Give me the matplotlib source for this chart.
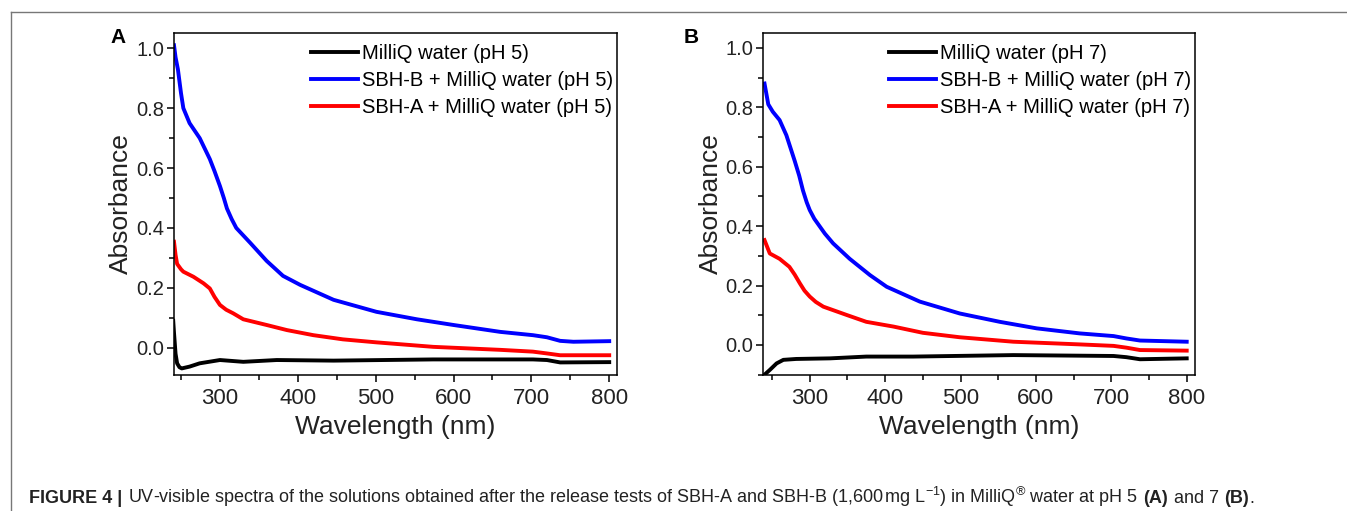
import matplotlib
matplotlib.use("Agg")
import matplotlib.pyplot as plt
from matplotlib.lines import Line2D
from matplotlib.ticker import MultipleLocator, FormatStrFormatter
from matplotlib.offsetbox import TextArea, HPacker, AnchoredOffsetbox

plt.rcParams['font.family'] = ['Liberation Sans', 'DejaVu Sans']
plt.rcParams['mathtext.fontset'] = 'custom'
plt.rcParams['mathtext.rm'] = 'Liberation Sans'
plt.rcParams['mathtext.it'] = 'Liberation Sans:italic'
plt.rcParams['mathtext.bf'] = 'Liberation Sans:bold'

# Panel A (pH 5)
wl_a_water = [240, 241, 243, 245, 248, 251, 261, 274, 300, 330, 373, 446, 574, 702, 720, 737, 800]
abs_a_water = [0.09, 0.05, -0.02, -0.052, -0.065, -0.069, -0.063, -0.052, -0.041, -0.047,
               -0.041, -0.043, -0.039, -0.039, -0.041, -0.049, -0.048]
wl_a_sbhb = [241, 243, 246, 250, 253, 261, 274, 287, 293, 300, 305, 309, 315, 321, 330, 339,
             360, 381, 403, 446, 501, 553, 600, 660, 702, 720, 737, 754, 800]
abs_a_sbhb = [1.01, 0.97, 0.93, 0.85, 0.80, 0.75, 0.70, 0.63, 0.59, 0.54, 0.50, 0.465, 0.43,
              0.40, 0.375, 0.35, 0.29, 0.24, 0.21, 0.16, 0.12, 0.095, 0.076, 0.053, 0.042,
              0.035, 0.023, 0.02, 0.022]
wl_a_sbha = [241, 243, 245, 250, 253, 266, 279, 287, 293, 300, 308, 317, 330, 360, 386, 420,
             458, 501, 574, 617, 660, 702, 720, 737, 800]
abs_a_sbha = [0.354, 0.31, 0.28, 0.262, 0.254, 0.237, 0.215, 0.198, 0.17, 0.143, 0.127, 0.115,
              0.095, 0.076, 0.059, 0.042, 0.028, 0.018, 0.003, -0.002, -0.007, -0.013,
              -0.019, -0.025, -0.025]

# Panel B (pH 7)
wl_b_water = [240, 247, 256, 265, 282, 327, 375, 437, 570, 703, 720, 738, 800]
abs_b_water = [-0.10, -0.084, -0.062, -0.050, -0.047, -0.045, -0.039, -0.039, -0.034,
               -0.037, -0.041, -0.048, -0.045]
wl_b_sbhb = [240, 245, 251, 260, 269, 280, 286, 291, 296, 300, 306, 313, 320, 331, 353, 380,
             402, 446, 499, 552, 601, 658, 703, 720, 738, 800]
abs_b_sbhb = [0.88, 0.81, 0.785, 0.757, 0.706, 0.62, 0.57, 0.52, 0.48, 0.454, 0.425, 0.40,
              0.375, 0.342, 0.29, 0.235, 0.196, 0.146, 0.106, 0.078, 0.056, 0.039, 0.030,
              0.022, 0.015, 0.011]
wl_b_sbha = [240, 247, 260, 273, 280, 287, 293, 300, 308, 318, 349, 375, 411, 450, 499, 570,
             658, 703, 720, 738, 800]
abs_b_sbha = [0.353, 0.308, 0.29, 0.263, 0.237, 0.207, 0.183, 0.163, 0.145, 0.129, 0.101,
              0.078, 0.062, 0.041, 0.026, 0.011, 0.002, -0.003, -0.009, -0.017, -0.019]

labels_a = ["MilliQ water (pH 5)", "SBH-B + MilliQ water (pH 5)", "SBH-A + MilliQ water (pH 5)"]
labels_b = ["MilliQ water (pH 7)", "SBH-B + MilliQ water (pH 7)", "SBH-A + MilliQ water (pH 7)"]
colors = ["black", "#0000ff", "#ff0000"]

W, H = 1347, 511
fig = plt.figure(figsize=(W / 100, H / 100), dpi=100)

ax_a = fig.add_axes([174 / W, 1 - 375 / H, (617 - 174) / W, (375 - 33) / H])
ax_b = fig.add_axes([763 / W, 1 - 375 / H, (1195 - 763) / W, (375 - 33) / H])

panels = [
    (ax_a, "A", -0.126, labels_a,
     [(wl_a_water, abs_a_water), (wl_a_sbhb, abs_a_sbhb), (wl_a_sbha, abs_a_sbha)],
     (241, 810), (-0.091, 1.051)),
    (ax_b, "B", -0.167, labels_b,
     [(wl_b_water, abs_b_water), (wl_b_sbhb, abs_b_sbhb), (wl_b_sbha, abs_b_sbha)],
     (238, 811), (-0.101, 1.05)),
]

for ax, letter, lx, labels, series, xlim, ylim in panels:
    for (x, y), lab, c in zip(series, labels, colors):
        ax.plot(x, y, color=c, lw=2.8, label=lab, solid_joinstyle='round')
    ax.set_xlim(*xlim)
    ax.set_ylim(*ylim)
    ax.xaxis.set_major_locator(MultipleLocator(100))
    ax.xaxis.set_minor_locator(MultipleLocator(50))
    ax.yaxis.set_major_locator(MultipleLocator(0.2))
    ax.yaxis.set_minor_locator(MultipleLocator(0.1))
    ax.yaxis.set_major_formatter(FormatStrFormatter('%.1f'))
    ax.tick_params(which='major', direction='out', length=5, width=1.1,
                   pad=2, labelcolor='#222222')
    ax.tick_params(axis='x', which='major', pad=4, labelsize=16)
    ax.tick_params(axis='y', which='major', labelsize=14.5)
    ax.tick_params(which='minor', direction='out', length=3.5, width=1.1)
    for s in ax.spines.values():
        s.set_linewidth(1.1)
    ax.set_xlabel("Wavelength (nm)", fontsize=19, labelpad=5, color='#222222')
    ax.set_ylabel("Absorbance", fontsize=19, color='#222222')
    ax.yaxis.set_label_coords(-0.092, 0.5)
    ax.legend(loc='upper right', bbox_to_anchor=(1.012, 0.994), frameon=False, fontsize=14.5,
              handlelength=2.35, handletextpad=0.2, labelspacing=0.4, borderaxespad=0.0,
              borderpad=0.45)
    ax.text(lx, 0.988, letter, transform=ax.transAxes, fontsize=15, fontweight='bold',
            ha='center', va='center')

# frame lines around the figure (left and top)
fig.add_artist(Line2D([11 / W, 11 / W], [0, 1 - 12 / H], transform=fig.transFigure,
                      color='#777777', lw=1))
fig.add_artist(Line2D([11 / W, 1], [1 - 12 / H, 1 - 12 / H], transform=fig.transFigure,
                      color='#777777', lw=1))

# caption
cap_fs = 13
def part(txt, bold=False):
    return TextArea(txt, textprops=dict(fontsize=cap_fs, color='#222222',
                                        fontweight='bold' if bold else 'normal'))

tail = HPacker(children=[part("(B)", True), part(".")], sep=0, pad=0, align='baseline')
caption = HPacker(children=[
    part("FIGURE 4 |", True),
    part(r"UV-visible spectra of the solutions obtained after the release tests of SBH-A and "
         r"SBH-B (1,600$\,$mg L$^{-1}$) in MilliQ$^{\circledR}$ water at pH 5"),
    part("(A)", True),
    part("and 7"),
    tail,
], sep=4, pad=0, align='baseline')
box = AnchoredOffsetbox(loc='lower left', child=caption, pad=0, borderpad=0, frameon=False,
                        bbox_to_anchor=(29 / W, 1 - 509 / H), bbox_transform=fig.transFigure)
fig.add_artist(box)

fig.savefig("out.png", dpi=100)
